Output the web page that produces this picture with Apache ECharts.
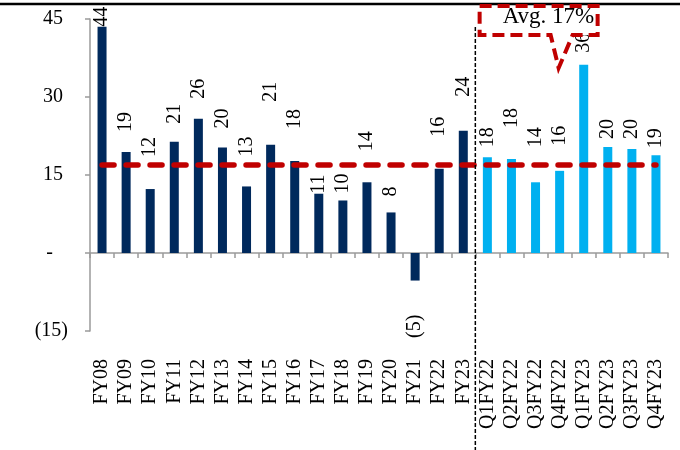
<!DOCTYPE html>
<html>
<head>
<meta charset="utf-8">
<script src="https://cdn.jsdelivr.net/npm/echarts@6/dist/echarts.min.js"></script>
<style>
  html, body { margin: 0; padding: 0; background: #fff; }
  #chart { width: 680px; height: 450px; }
</style>
</head>
<body>
<div id="chart"></div>
<script>
// Annual growth (%)
const annualLabels = ['FY08','FY09','FY10','FY11','FY12','FY13','FY14','FY15','FY16','FY17','FY18','FY19','FY20','FY21','FY22','FY23'];
const annualValues = [43.5, 19.4, 12.3, 21.4, 25.8, 20.3, 12.8, 20.8, 17.7, 11.4, 10.1, 13.6, 7.8, -5.3, 16.2, 23.5];

// Quarterly growth (%)
const quarterLabels = ['Q1FY22','Q2FY22','Q3FY22','Q4FY22','Q1FY23','Q2FY23','Q3FY23','Q4FY23'];
const quarterValues = [18.4, 18.1, 13.6, 15.8, 36.2, 20.4, 20.0, 18.8];

// Long-run average
const averageValue = 17;
const averageText = 'Avg. 17%';

// Value-axis ticks
const yMin = -15, yMax = 45, yStep = 15;

// Per-bar gap (px) between bar end and its rotated value label
const labelGap = [0, 20, 32, 18, 20, 19, 30, 43, 32, 0, 7, 31, 16, 34, 32, 34,
                  10, 31, 35, 25, 12, 8, 10, 7];

const categories = annualLabels.concat(quarterLabels);
const FONT = '"Liberation Serif", "DejaVu Serif", serif';
const DARK = '#00295C';
const LIGHT = '#00B0F0';
const RED = '#C00000';

function fmtNum(v) {
  const r = Math.round(v);
  if (r === 0) return '-';
  return r < 0 ? '(' + Math.abs(r) + ')' : String(r);
}

// Accounting-style tick text: positives leave room for a closing bracket
function fmtTick(v) {
  if (v === 0) return '-   ';
  return v < 0 ? '(' + Math.abs(v) + ')' : v + ' ';
}

function barData(values, offset) {
  return values.map((v, i) => {
    const gap = labelGap[offset + i];
    if (v < 0) {
      return {
        value: v,
        label: { position: 'bottom', distance: gap, align: 'right' }
      };
    }
    return { value: v, label: { distance: gap } };
  });
}

const annualSeriesData = barData(annualValues, 0).concat(quarterLabels.map(() => null));
const quarterSeriesData = annualLabels.map(() => null).concat(barData(quarterValues, annualLabels.length));

const labelStyle = {
  show: true,
  position: 'top',
  rotate: 90,
  align: 'left',
  verticalAlign: 'middle',
  fontFamily: FONT,
  fontSize: 20,
  color: '#000',
  formatter: p => fmtNum(p.value)
};

const chart = echarts.init(document.getElementById('chart'), null, { renderer: 'canvas' });

chart.setOption({
  animation: false,
  backgroundColor: '#fff',
  grid: { left: 90, right: 12, top: 19, bottom: 119, containLabel: false, outerBoundsMode: 'none' },
  xAxis: {
    type: 'category',
    data: categories,
    axisLine: { onZero: true, lineStyle: { color: '#9a9a9a', width: 1.5 } },
    axisTick: { show: true, length: 5, lineStyle: { color: '#9a9a9a', width: 1.5 } },
    axisLabel: {
      rotate: 90,
      margin: 28,
      interval: 0,
      fontFamily: FONT,
      fontSize: 20,
      color: '#000'
    },
    splitLine: { show: false }
  },
  yAxis: {
    type: 'value',
    min: yMin,
    max: yMax,
    interval: yStep,
    axisLine: { show: true, lineStyle: { color: '#9a9a9a', width: 1.5 } },
    axisTick: { show: true, length: 5, lineStyle: { color: '#9a9a9a', width: 1.5 } },
    axisLabel: {
      margin: 22,
      fontFamily: FONT,
      fontSize: 20,
      color: '#000',
      formatter: v => fmtTick(v)
    },
    splitLine: { show: false }
  },
  series: [
    {
      name: 'Annual',
      type: 'bar',
      stack: 'growth',
      barWidth: 9,
      data: annualSeriesData,
      itemStyle: { color: DARK },
      label: labelStyle,
      markLine: {
        silent: true,
        symbol: 'none',
        label: { show: false },
        lineStyle: { color: RED, width: 5.5, type: [12, 12], cap: 'round' },
        data: [[
          { coord: [annualLabels[0], averageValue] },
          { coord: [quarterLabels[quarterLabels.length - 1], averageValue] }
        ]],
        z: 5
      }
    },
    {
      name: 'Quarterly',
      type: 'bar',
      stack: 'growth',
      barWidth: 9,
      data: quarterSeriesData,
      itemStyle: { color: LIGHT },
      label: labelStyle
    }
  ]
});

// Divider between annual and quarterly periods, plus the average callout
const xLast = chart.convertToPixel({ xAxisIndex: 0 }, annualLabels[annualLabels.length - 1]);
const xFirstQ = chart.convertToPixel({ xAxisIndex: 0 }, quarterLabels[0]);
const xDivider = (xLast + xFirstQ) / 2;
const xTip = chart.convertToPixel({ xAxisIndex: 0 }, quarterLabels[3]);

chart.setOption({
  graphic: [
    {
      type: 'line',
      z: 20,
      shape: { x1: 0, y1: 4, x2: 680, y2: 4 },
      style: { stroke: '#000', lineWidth: 2.5 }
    },
    {
      type: 'line',
      z: 20,
      shape: { x1: xDivider, y1: 27, x2: xDivider, y2: 450 },
      style: { stroke: '#000', lineWidth: 1.5, lineDash: [4, 2] }
    },
    {
      type: 'polygon',
      z: 30,
      shape: {
        points: [
          [xTip - 80, 6], [xTip + 38, 6], [xTip + 38, 35], [xTip + 13, 35],
          [xTip - 1, 68], [xTip - 9, 35], [xTip - 80, 35]
        ]
      },
      style: { fill: '#fff', stroke: RED, lineWidth: 4, lineDash: [12, 6] }
    },
    {
      type: 'text',
      z: 31,
      x: xTip - 57,
      y: 28,
      style: {
        text: averageText,
        font: '23px ' + FONT,
        fill: '#000',
        textVerticalAlign: 'bottom'
      }
    }
  ]
});
</script>
</body>
</html>
